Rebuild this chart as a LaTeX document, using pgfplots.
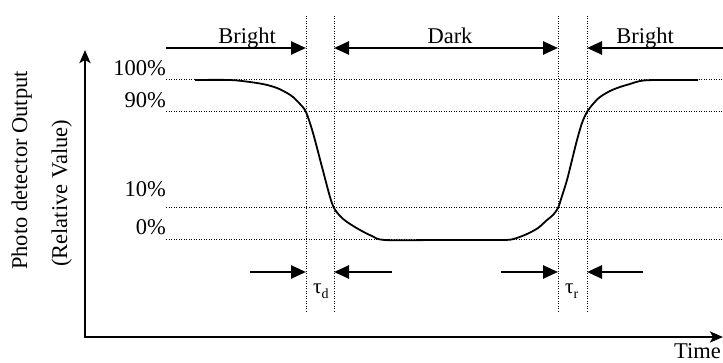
\documentclass[border=0pt]{standalone}
\usepackage{fontspec}
\setmainfont{Liberation Serif}
\usepackage{pgfplots}
\pgfplotsset{compat=1.18}
\usetikzlibrary{arrows.meta}
\newcommand\lbl{\fontsize{22.5bp}{27bp}\selectfont}

\begin{document}
\begin{tikzpicture}
\begin{axis}[
  width=723bp, height=363bp, scale only axis,
  xmin=0, xmax=723, ymin=0, ymax=363,
  hide axis, clip=false,
]
% guide lines
\pgfplotsinvokeforeach{283,251,155,123}{
  \draw[line width=1bp, dash pattern=on 1bp off 1.5bp] (axis cs:166,#1) -- (axis cs:723,#1);
}
\pgfplotsinvokeforeach{306,334,558,587}{
  \draw[line width=1bp, dash pattern=on 1bp off 1.5bp] (axis cs:#1,347) -- (axis cs:#1,51);
}
% level labels
\node[anchor=base east, inner sep=0pt, font=\lbl] at (axis cs:166,287) {100\%};
\node[anchor=base east, inner sep=0pt, font=\lbl] at (axis cs:166,255) {90\%};
\node[anchor=base east, inner sep=0pt, font=\lbl] at (axis cs:166,166) {10\%};
\node[anchor=base east, inner sep=0pt, font=\lbl] at (axis cs:166,128) {0\%};

% response curve
\addplot[black, line width=1.8bp, smooth, tension=0.5] coordinates {
  (195,283) (230,283) (250,281) (265,278.5) (277,275) (287,270) (293,266)
  (300,259) (306,251) (313,230) (322,196) (330,166) (334,155) (340,147)
  (347,141) (360,133) (372,127) (385,123) (440,123) (503,123) (515,124.5)
  (527,129) (538,135) (547,143) (553,148) (558,155) (562,167) (567,183)
  (572,203) (577,223) (582,240) (587,251) (593,259) (600,266) (610,272)
  (620,276) (630,279) (640,282) (655,283) (698,283)
};

% top arrows
\draw[line width=2.6bp, -{Triangle[length=15bp,width=13bp]}] (axis cs:166,315) -- (axis cs:306,315);
\draw[line width=2.6bp, {Triangle[length=15bp,width=13bp]}-{Triangle[length=15bp,width=13bp]}] (axis cs:334,315) -- (axis cs:558,315);
\draw[line width=2.6bp, -{Triangle[length=15bp,width=13bp]}] (axis cs:723,315) -- (axis cs:587,315);
\node[anchor=base, inner sep=0pt, font=\lbl] at (axis cs:247,319) {Bright};
\node[anchor=base, inner sep=0pt, font=\lbl] at (axis cs:450,319) {Dark};
\node[anchor=base, inner sep=0pt, font=\lbl] at (axis cs:645,319) {Bright};

% bottom arrows
\draw[line width=2.6bp, -{Triangle[length=15bp,width=13bp]}] (axis cs:250,91) -- (axis cs:306,91);
\draw[line width=2.6bp, -{Triangle[length=15bp,width=13bp]}] (axis cs:392,91) -- (axis cs:334,91);
\draw[line width=2.6bp, -{Triangle[length=15bp,width=13bp]}] (axis cs:501,91) -- (axis cs:558,91);
\draw[line width=2.6bp, -{Triangle[length=15bp,width=13bp]}] (axis cs:643,91) -- (axis cs:587,91);
\node[anchor=base west, inner sep=0pt] at (axis cs:313,69) {\fontsize{21bp}{24bp}\selectfont τ\raisebox{-5bp}{\fontsize{14bp}{16bp}\selectfont d}};
\node[anchor=base west, inner sep=0pt] at (axis cs:565,69) {\fontsize{21bp}{24bp}\selectfont τ\raisebox{-5bp}{\fontsize{14bp}{16bp}\selectfont r}};

% axes
\draw[line width=2.8bp, -{Stealth[length=13bp,width=11bp,inset=3bp]}] (axis cs:85,26) -- (axis cs:85,313);
\draw[line width=2.8bp, -{Stealth[length=13bp,width=11bp,inset=3bp]}] (axis cs:84,26) -- (axis cs:723,26);
\node[anchor=base east, inner sep=0pt, font=\lbl] at (axis cs:721,5) {Time};
\node[anchor=base west, rotate=90, inner sep=0pt, font=\lbl] at (axis cs:27,93) {Photo detector Output};
\node[anchor=base west, rotate=90, inner sep=0pt, font=\lbl] at (axis cs:67,96) {(Relative Value)};
\end{axis}
\pgfresetboundingbox
\path[use as bounding box] (0,0) rectangle (723bp,363bp);
\end{tikzpicture}
\end{document}
